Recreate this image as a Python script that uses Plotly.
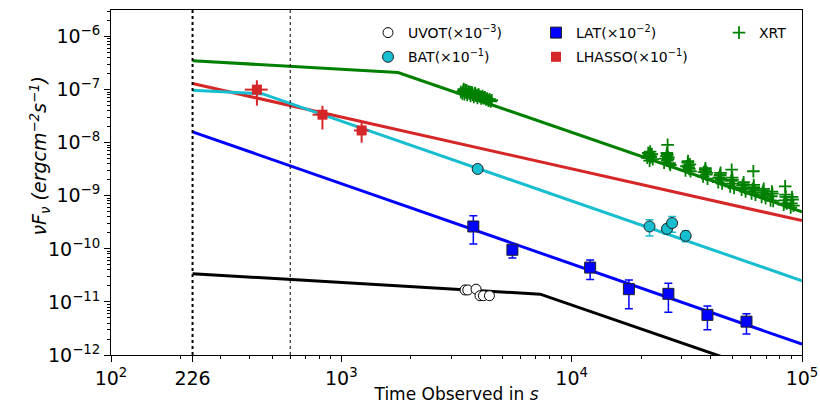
import plotly.graph_objects as go

# ---------------- data ----------------
# model lines (time in s, nuF_nu in erg cm^-2 s^-1)
xrt_model_t = [226, 1763, 1e5]
xrt_model_f = [3.5e-7, 2.1e-7, 5.0e-10]
lhaaso_model_t = [226, 1e5]
lhaaso_model_f = [1.3e-7, 3.4e-10]
bat_model_t = [226, 456, 1e5]
bat_model_f = [9.7e-8, 8.3e-8, 2.5e-11]
lat_model_t = [226, 1e5]
lat_model_f = [1.6e-8, 1.6e-12]
uvot_model_t = [226, 7300, 1e5]
uvot_model_f = [3.4e-11, 1.4e-11, 2.8e-13]

# UVOT (x1e-3)
uvot_t = [3443, 3540, 3845, 4000, 4137, 4395]
uvot_f = [1.68e-11, 1.68e-11, 1.74e-11, 1.31e-11, 1.31e-11, 1.31e-11]

# BAT (x1e-1)
bat_t = [3908, 21780, 25930, 27280, 31260]
bat_f = [3.2e-9, 2.64e-10, 2.38e-10, 3.06e-10, 1.76e-10]
bat_err = [0.2e-9, 0.9e-10, 0.5e-10, 1.0e-10, 0.4e-10]

# LAT (x1e-2)
lat_t = [3742, 5530, 12030, 17720, 26300, 38850, 57400]
lat_f = [2.64e-10, 9.6e-11, 4.44e-11, 1.74e-11, 1.42e-11, 5.7e-12, 4.25e-12]
lat_err_up = [1.56e-10, 1.8e-11, 1.7e-11, 0.86e-11, 0.83e-11, 2.7e-12, 1.75e-12]
lat_err_dn = [1.40e-10, 2.9e-11, 1.8e-11, 1.0e-11, 0.78e-11, 2.7e-12, 1.75e-12]

# LHAASO (x1e-1)
lhaaso_t = [430, 828, 1225]
lhaaso_f = [1.0e-7, 3.37e-8, 1.7e-8]
lhaaso_ferr = [5.0e-8, 1.6e-8, 7.0e-9]
lhaaso_terr = [49, 78, 90]

# XRT
xrt_t = [
    3300, 3350, 3380, 3420, 3450, 3480, 3520, 3560, 3600, 3640, 3680, 3720, 3760, 3800,
    3850, 3900, 3950, 4000, 4050, 4100, 4150, 4200, 4250, 4300, 4350, 4400, 4450, 4500,
    3400, 3500, 3620, 3700, 3820, 3920, 4070, 4180,
    21300, 21500, 21700, 21900, 22100, 22300, 22500, 21800, 21900, 22000, 21600,
    25200, 25500, 25800, 26000, 26300, 26600, 26800, 26100, 25900, 26000, 26200,
    31200, 31500, 31900, 32200, 32600, 32800, 32400, 32000, 32100,
    37200, 37500, 38000, 38400, 38700, 38900, 38100, 38200,
    43300, 43600, 44200, 44600, 45000, 44000, 44300, 44400,
    48800, 49200, 49800, 50300, 50700, 49500, 49900,
    54700, 55200, 55800, 56400, 56900, 55600,
    60400, 61000, 61700, 62300, 62800, 61500, 61800,
    66800, 67400, 68200, 68900, 69500, 68000,
    73000, 73600, 74400, 75000, 74000,
    83300, 84000, 85000, 85800, 84500, 84800,
    89300, 90000, 91000, 91800, 90500,
]
xrt_f = [
    9.0e-8, 8.5e-8, 9.5e-8, 8.2e-8, 9.8e-8, 8.8e-8, 7.9e-8, 9.2e-8, 8.4e-8, 7.6e-8, 8.9e-8, 8.0e-8, 7.3e-8, 8.6e-8,
    7.7e-8, 7.0e-8, 8.1e-8, 7.4e-8, 6.8e-8, 7.6e-8, 6.9e-8, 7.2e-8, 6.5e-8, 6.8e-8, 6.2e-8, 6.6e-8, 6.0e-8, 6.3e-8,
    1.02e-7, 9.6e-8, 9.0e-8, 8.7e-8, 8.3e-8, 7.9e-8, 7.2e-8, 7.0e-8,
    5.2e-9, 6.4e-9, 5.8e-9, 6.8e-9, 5.5e-9, 6.1e-9, 4.9e-9, 4.6e-9, 6.0e-9, 5.3e-9, 5.7e-9,
    4.2e-9, 5.0e-9, 5.6e-9, 4.6e-9, 5.3e-9, 4.1e-9, 3.8e-9, 9.1e-9, 6.4e-9, 5.9e-9, 4.9e-9,
    3.0e-9, 3.6e-9, 4.2e-9, 3.4e-9, 3.9e-9, 2.9e-9, 3.2e-9, 4.5e-9, 3.7e-9,
    2.3e-9, 2.8e-9, 3.1e-9, 2.5e-9, 2.7e-9, 2.1e-9, 3.3e-9, 2.9e-9,
    1.8e-9, 2.2e-9, 2.5e-9, 2.0e-9, 1.7e-9, 2.4e-9, 2.7e-9, 2.1e-9,
    1.5e-9, 1.9e-9, 2.2e-9, 1.7e-9, 1.4e-9, 3.1e-9, 2.0e-9,
    1.3e-9, 1.55e-9, 1.8e-9, 1.4e-9, 1.2e-9, 1.65e-9,
    1.1e-9, 1.35e-9, 1.6e-9, 1.25e-9, 1.05e-9, 2.9e-9, 1.45e-9,
    0.95e-9, 1.15e-9, 1.35e-9, 1.05e-9, 0.9e-9, 1.25e-9,
    0.82e-9, 0.98e-9, 1.1e-9, 0.8e-9, 1.2e-9,
    0.68e-9, 0.82e-9, 0.95e-9, 0.72e-9, 1.5e-9, 1.05e-9,
    0.6e-9, 0.72e-9, 0.85e-9, 0.65e-9, 0.95e-9,
]

# reference times and axis settings
t_start = 226
t_break = 600
x_range_log = [2, 5]
y_range_log = [-12, -5.5]
x_tickvals = [100, 226, 1000, 10000, 100000]
x_ticktext = ["10<sup>2</sup>", "226", "10<sup>3</sup>", "10<sup>4</sup>", "10<sup>5</sup>"]
y_tickvals = [1e-12, 1e-11, 1e-10, 1e-9, 1e-8, 1e-7, 1e-6]
y_ticktext = ["10<sup>−12</sup>", "10<sup>−11</sup>", "10<sup>−10</sup>", "10<sup>−9</sup>",
              "10<sup>−8</sup>", "10<sup>−7</sup>", "10<sup>−6</sup>"]
x_minor = [m * 10 ** d for d in (2, 3, 4) for m in range(2, 10)]
y_minor = [m * 10.0 ** d for d in range(-12, -5) for m in range(2, 10) if m * 10.0 ** d < 10 ** -5.5]

GREEN = "#008000"
RED = "#d62728"
CYAN = "#17becf"
BLUE = "#0000ff"
BLACK = "#000000"

fig = go.Figure()

# model lines
for tt, ff, col in [(xrt_model_t, xrt_model_f, GREEN), (lhaaso_model_t, lhaaso_model_f, RED),
                    (bat_model_t, bat_model_f, CYAN), (lat_model_t, lat_model_f, BLUE),
                    (uvot_model_t, uvot_model_f, BLACK)]:
    fig.add_trace(go.Scatter(x=tt, y=ff, mode="lines", line=dict(color=col, width=3),
                             showlegend=False, hoverinfo="skip"))

# vertical dotted lines
ylo, yhi = 10 ** y_range_log[0], 10 ** y_range_log[1]
fig.add_trace(go.Scatter(x=[t_start, t_start], y=[ylo, yhi], mode="lines",
                         line=dict(color="black", width=2, dash="dot"), showlegend=False))
fig.add_trace(go.Scatter(x=[t_break, t_break], y=[ylo, yhi], mode="lines",
                         line=dict(color="black", width=1, dash="dot"), showlegend=False))

# data
fig.add_trace(go.Scatter(x=xrt_t, y=xrt_f, mode="markers", name="XRT", legend="legend3",
                         legendgroup="xrt",
                         marker=dict(symbol="cross-thin", size=9, color=GREEN,
                                     line=dict(color=GREEN, width=1.8))))
fig.add_trace(go.Scatter(x=uvot_t, y=uvot_f, mode="markers", name="UVOT(×10<sup>−3</sup>)",
                         legend="legend", legendgroup="uvot",
                         marker=dict(symbol="circle", size=10, color="white",
                                     line=dict(color="black", width=1))))
fig.add_trace(go.Scatter(x=bat_t, y=bat_f, mode="markers", name="BAT(×10<sup>−1</sup>)",
                         legend="legend", legendgroup="bat",
                         error_y=dict(type="data", array=bat_err, color=CYAN, thickness=1.5, width=4),
                         marker=dict(symbol="circle", size=11, color=CYAN,
                                     line=dict(color="#222222", width=1))))
fig.add_trace(go.Scatter(x=lat_t, y=lat_f, mode="markers", name="LAT(×10<sup>−2</sup>)",
                         legend="legend2", legendgroup="lat",
                         error_y=dict(type="data", array=lat_err_up, arrayminus=lat_err_dn,
                                      color=BLUE, thickness=1.5, width=4),
                         marker=dict(symbol="square", size=11, color=BLUE,
                                     line=dict(color="#222222", width=1))))
fig.add_trace(go.Scatter(x=lhaaso_t, y=lhaaso_f, mode="markers", name="LHASSO(×10<sup>−1</sup>)",
                         legend="legend2", legendgroup="lhaaso",
                         error_y=dict(type="data", array=lhaaso_ferr, color=RED, thickness=2, width=0),
                         error_x=dict(type="data", array=lhaaso_terr, color=RED, thickness=2, width=0),
                         marker=dict(symbol="square", size=10, color=RED)))

W, H = 820, 407
ML, MR, MT, MB = 111, 18, 10, 52
PW = W - ML - MR
PH = H - MT - MB

font = "DejaVu Sans, Liberation Sans, sans-serif"
leg_common = dict(font=dict(family=font, size=14, color="black"), bgcolor="rgba(0,0,0,0)",
                  yanchor="top", xanchor="left", y=1 - 7 / PH, tracegroupgap=3)

fig.update_layout(
    width=W, height=H,
    margin=dict(l=ML, r=MR, t=MT, b=MB, autoexpand=False),
    paper_bgcolor="white", plot_bgcolor="white",
    font=dict(family=font, color="black"),
    legend=dict(x=(368 - ML) / PW, **leg_common),
    legend2=dict(x=(536 - ML) / PW, **leg_common),
    legend3=dict(x=(719 - ML) / PW, **leg_common),
    xaxis=dict(type="log", range=x_range_log, tickmode="array", tickvals=x_tickvals,
               ticktext=x_ticktext, ticks="outside", ticklen=6, tickwidth=1, tickcolor="black",
               showline=True, linecolor="black", linewidth=1, mirror=True, showgrid=False,
               zeroline=False, tickfont=dict(size=19), automargin=False,
               minor=dict(tickmode="array", tickvals=x_minor, ticks="outside", ticklen=3,
                          tickcolor="black", showgrid=False),
               title=dict(text="Time Observed in <i>s</i>", font=dict(size=17), standoff=0)),
    yaxis=dict(type="log", range=y_range_log, tickmode="array", tickvals=y_tickvals,
               ticktext=y_ticktext, ticks="outside", ticklen=6, tickwidth=1, tickcolor="black",
               showline=True, linecolor="black", linewidth=1, mirror=True, showgrid=False,
               zeroline=False, tickfont=dict(size=19), automargin=False,
               minor=dict(tickmode="array", tickvals=y_minor, ticks="outside", ticklen=3,
                          tickcolor="black", showgrid=False)),
    annotations=[dict(text="<i>νF<sub>ν</sub> (ergcm<sup>−2</sup>s<sup>−1</sup>)</i>",
                      textangle=-90, xref="paper", yref="paper",
                      x=(13 - ML) / PW, y=1 - (156 - MT) / PH, xshift=12,
                      xanchor="left", yanchor="middle", showarrow=False,
                      font=dict(family=font, size=19, color="black"))],
)

# remove the page's default body margin so the figure fills the 820x407 window exactly
fig.write_html("out.html", config={"displayModeBar": False},
               post_script="document.body.style.margin='0';document.body.style.overflow='hidden';")
